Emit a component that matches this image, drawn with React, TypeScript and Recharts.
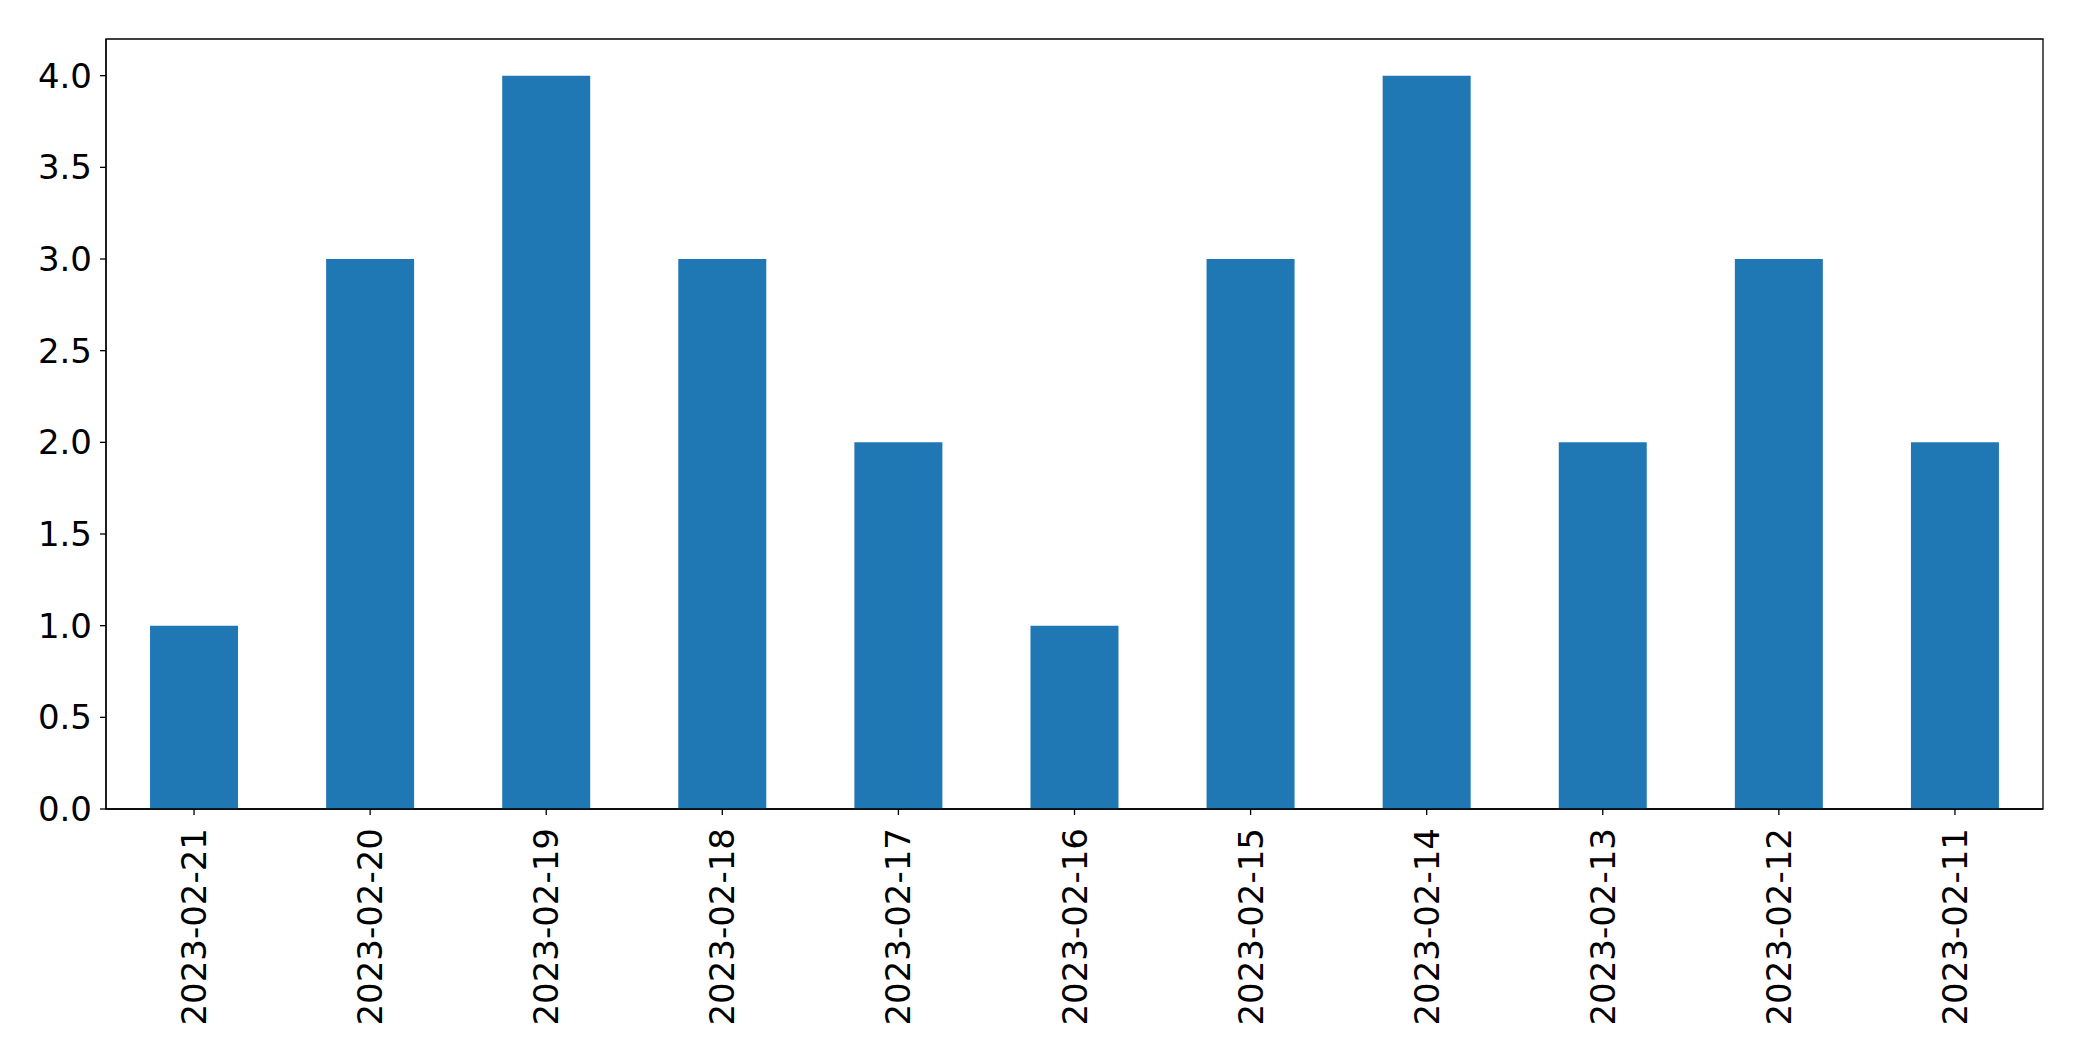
import React from 'react';
import { BarChart, Bar, XAxis, YAxis, ReferenceArea } from 'recharts';

const dates = [
  '2023-02-21', '2023-02-20', '2023-02-19', '2023-02-18', '2023-02-17', '2023-02-16',
  '2023-02-15', '2023-02-14', '2023-02-13', '2023-02-12', '2023-02-11',
];
const counts = [1, 3, 4, 3, 2, 1, 3, 4, 2, 3, 2];
const yTicks = [0, 0.5, 1, 1.5, 2, 2.5, 3, 3.5, 4];
const yMax = 4.2;

const data = dates.map((date, i) => ({ date, count: counts[i] }));

const FONT = '"DejaVu Sans", sans-serif';
const FONT_SIZE = 34;

// vertical date labels, hanging below the tick
const DateTick = (props: any) => {
  const { x, y, payload } = props;
  return (
    <text
      x={0}
      y={0}
      transform={`translate(${x}, ${y + 11}) rotate(-90)`}
      textAnchor="end"
      dominantBaseline="central"
      fontFamily={FONT}
      fontSize={FONT_SIZE}
      fill="#000"
    >
      {payload.value}
    </text>
  );
};

export default function App() {
  return (
    <div style={{ position: 'absolute', left: 0, top: 0, background: '#fff' }}>
      <BarChart
        width={2082}
        height={1061}
        data={data}
        margin={{ top: 39, right: 39, bottom: 0, left: 0 }}
        barCategoryGap="25%"
      >
        <XAxis
          dataKey="date"
          height={252}
          interval={0}
          tick={<DateTick />}
          tickSize={6}
          axisLine={{ stroke: '#000', strokeWidth: 1.3 }}
          tickLine={{ stroke: '#000', strokeWidth: 1.3 }}
        />
        <YAxis
          width={106}
          domain={[0, yMax]}
          ticks={yTicks}
          interval={0}
          tickFormatter={(v: number) => v.toFixed(1)}
          tickSize={6}
          tickMargin={8}
          tick={{ fontFamily: FONT, fontSize: FONT_SIZE, fill: '#000' }}
          axisLine={{ stroke: '#000', strokeWidth: 1.3 }}
          tickLine={{ stroke: '#000', strokeWidth: 1.3 }}
        />
        <Bar dataKey="count" fill="#1f77b4" isAnimationActive={false} />
        {/* frame around the plot area */}
        <ReferenceArea
          x1={dates[0]}
          x2={dates[dates.length - 1]}
          y1={0}
          y2={yMax}
          ifOverflow="visible"
          fill="none"
          fillOpacity={0}
          stroke="#000"
          strokeWidth={1.3}
        />
      </BarChart>
    </div>
  );
}
